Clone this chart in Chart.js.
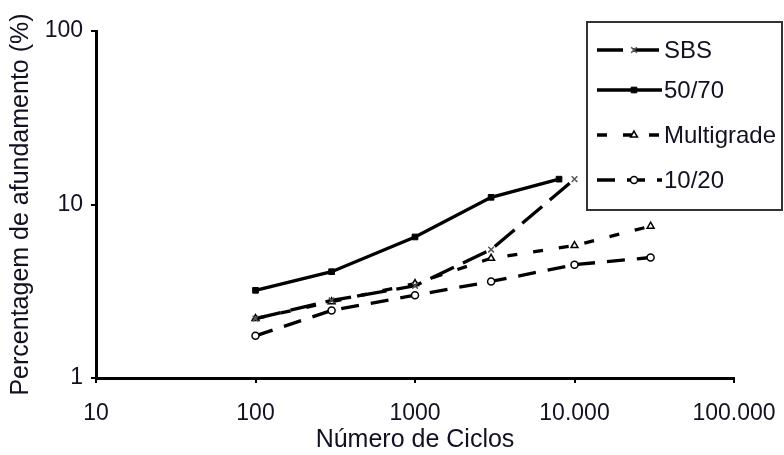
<!DOCTYPE html>
<html><head><meta charset="utf-8">
<script src="https://cdn.jsdelivr.net/npm/chart.js@4.4.1/dist/chart.umd.min.js"></script>
<style>html,body{margin:0;padding:0;background:#fff}#wrap{width:784px;height:455px;position:relative}</style>
</head><body><div id="wrap"><canvas id="c"></canvas></div>
<script>
// ---- data ----
const cyclesSBS = [100, 300, 1000, 3000, 10000];
const sbs = [2.2, 2.8, 3.4, 5.5, 14];
const cycles5070 = [100, 300, 1000, 3000, 8000];
const b5070 = [3.2, 4.1, 6.5, 11, 14];
const cyclesMulti = [100, 300, 1000, 3000, 10000, 30000];
const multigrade = [2.2, 2.75, 3.5, 4.9, 5.8, 7.5];
const cycles1020 = [100, 300, 1000, 3000, 10000, 30000];
const b1020 = [1.75, 2.45, 3.0, 3.6, 4.5, 4.95];
const seriesNames = ['SBS', '50/70', 'Multigrade', '10/20'];
const xTicks = [10, 100, 1000, 10000, 100000];
const xTickLabels = ['10', '100', '1000', '10.000', '100.000'];
const yTicks = [1, 10, 100];
const yTickLabels = ['1', '10', '100'];

const pts = (xs, ys) => xs.map((x, i) => ({x: x, y: ys[i]}));
const TXT = '#111122';
const FONT = 'Liberation Sans, Arial, sans-serif';

const datasets = [
  {label: seriesNames[0], data: pts(cyclesSBS, sbs), borderDash: [26, 10], pointStyle: 'crossRot', pointRadius: 4, pointBorderWidth: 1.5, pointBorderColor: '#555', pointBackgroundColor: '#555'},
  {label: seriesNames[1], data: pts(cycles5070, b5070), borderDash: [], pointStyle: 'rect', pointRadius: 4, pointBorderWidth: 1, pointBorderColor: '#000', pointBackgroundColor: '#000'},
  {label: seriesNames[2], data: pts(cyclesMulti, multigrade), borderDash: [10, 16], pointStyle: 'triangle', pointRadius: 4, pointBorderWidth: 1.5, pointBorderColor: '#000', pointBackgroundColor: '#fff'},
  {label: seriesNames[3], data: pts(cycles1020, b1020), borderDash: [18, 12], pointStyle: 'circle', pointRadius: 3.5, pointBorderWidth: 1.5, pointBorderColor: '#000', pointBackgroundColor: '#fff'}
].map(d => Object.assign({borderColor: '#000', borderWidth: 3.3, tension: 0, fill: false}, d));

const legendPlugin = {
  id: 'boxLegend',
  afterDraw(chart) {
    const ctx = chart.ctx;
    ctx.save();
    ctx.setLineDash([]);
    ctx.strokeStyle = '#333';
    ctx.lineWidth = 2;
    ctx.strokeRect(587, 22, 195, 188);
    const rows = [50, 90, 135, 180];
    chart.data.datasets.forEach((ds, i) => {
      const y = rows[i];
      ctx.save();
      ctx.strokeStyle = '#000';
      ctx.lineWidth = 3.3;
      ctx.setLineDash(ds.borderDash || []);
      ctx.beginPath();
      ctx.moveTo(597, y);
      ctx.lineTo(662, y);
      ctx.stroke();
      ctx.setLineDash([]);
      ctx.fillStyle = ds.pointBackgroundColor;
      ctx.strokeStyle = ds.pointBorderColor;
      ctx.lineWidth = ds.pointBorderWidth;
      Chart.helpers.drawPoint(ctx, {pointStyle: ds.pointStyle, radius: ds.pointRadius, rotation: 0, borderWidth: ds.pointBorderWidth}, 634, y);
      ctx.restore();
      ctx.fillStyle = TXT;
      ctx.font = '24px ' + FONT;
      ctx.textBaseline = 'middle';
      ctx.textAlign = 'left';
      ctx.fillText(ds.label, 664, y + 1);
    });
    ctx.restore();
  }
};

new Chart(document.getElementById('c'), {
  type: 'line',
  data: {datasets: datasets},
  plugins: [legendPlugin],
  options: {
    responsive: true,
    maintainAspectRatio: false,
    animation: false,
    layout: {padding: {left: 0, top: 31, right: 50, bottom: 0}},
    plugins: {legend: {display: false}, tooltip: {enabled: false}},
    scales: {
      x: {
        type: 'logarithmic', min: 10, max: 100000,
        afterBuildTicks: s => { s.ticks = xTicks.map(v => ({value: v})); },
        afterFit: s => { s.height = 77; s.paddingLeft = 0; s.paddingRight = 0; },
        ticks: {callback: v => xTickLabels[xTicks.indexOf(v)], color: TXT, font: {family: FONT, size: 23}, padding: 17, maxRotation: 0, autoSkip: false},
        grid: {drawOnChartArea: false, drawTicks: true, tickLength: 5, color: '#000', lineWidth: 2},
        border: {display: true, color: '#000', width: 3},
        title: {display: true, text: 'Número de Ciclos', color: TXT, font: {family: FONT, size: 25}, padding: {top: 0, bottom: 0}}
      },
      y: {
        type: 'logarithmic', min: 1, max: 100,
        afterBuildTicks: s => { s.ticks = yTicks.map(v => ({value: v})); },
        afterFit: s => { s.width = 96; s.paddingTop = 0; s.paddingBottom = 0; },
        ticks: {callback: v => yTickLabels[yTicks.indexOf(v)], color: TXT, font: {family: FONT, size: 23}, padding: 8, autoSkip: false},
        grid: {drawOnChartArea: false, drawTicks: true, tickLength: 5, color: '#000', lineWidth: 2},
        border: {display: true, color: '#000', width: 3},
        title: {display: true, text: 'Percentagem de afundamento (%)', color: TXT, font: {family: FONT, size: 25}, padding: {top: 6, bottom: 0}}
      }
    }
  }
});
</script></body></html>
